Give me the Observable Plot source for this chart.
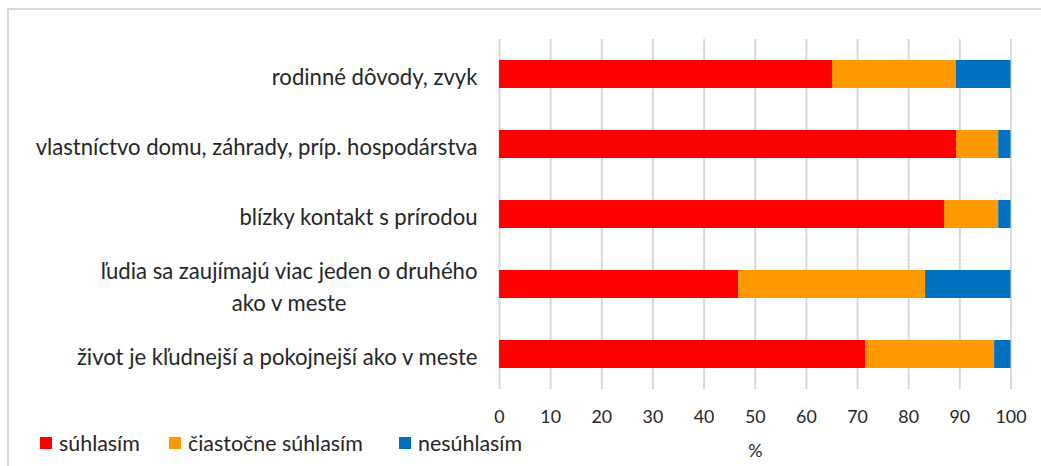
<!DOCTYPE html>
<html><head><meta charset="utf-8">
<script src="https://cdn.jsdelivr.net/npm/d3@7"></script>
<script src="https://cdn.jsdelivr.net/npm/@observablehq/plot@0.6"></script>
<style>
html,body{margin:0;padding:0;background:#fff;}
#wrap{position:relative;width:1041px;height:466px;overflow:hidden;background:#fff;}
#frame{position:absolute;left:7px;top:8px;width:1200px;height:600px;border-left:2px solid #d9d9d9;border-top:2px solid #d9d9d9;}
#chart{position:absolute;left:0;top:0;}
.item{position:absolute;top:431px;height:24px;display:flex;align-items:center;color:#262626;white-space:nowrap;}
.sw{width:12px;height:12px;margin-right:7px;}
</style></head>
<body><div id="wrap"><div id="frame"></div><div id="chart"></div><div id="legend"></div></div>
<script>
// ---- data ----
const categories = [
  "rodinné dôvody, zvyk",
  "vlastníctvo domu, záhrady, príp. hospodárstva",
  "blízky kontakt s prírodou",
  "ľudia sa zaujímajú viac jeden o druhého\nako v meste",
  "život je kľudnejší a pokojnejší ako v meste"
];
const seriesNames = ["súhlasím", "čiastočne súhlasím", "nesúhlasím"];
const suhlasim   = [65.1, 89.4, 87.0, 46.8, 71.6];
const ciastocne  = [24.2,  8.2, 10.6, 36.5, 25.2];
const nesuhlasim = [10.7,  2.4,  2.4, 16.7,  3.2];
const seriesColors = ["#FF0000", "#FF9900", "#0070C0"];
const xTicks = [0, 10, 20, 30, 40, 50, 60, 70, 80, 90, 100];
const xLabel = "%";

// ---- build table ----
const seriesValues = [suhlasim, ciastocne, nesuhlasim];
const rows = categories.flatMap((c, i) =>
  seriesNames.map((s, j) => ({cat: c, series: s, value: seriesValues[j][i]})));

// ---- font fitting ----
const FAMILY = "Lato";
const ctx = document.createElement("canvas").getContext("2d");
function fit(text, target) { ctx.font = `100px ${FAMILY}`; return 100 * target / ctx.measureText(text).width; }
const catSize = fit("vlastníctvo domu, záhrady, príp. hospodárstva", 442);
const tickSize = fit("100", 31);
const legSize = fit("čiastočne súhlasím", 175);

const plot = Plot.plot({
  width: 1041,
  height: 466,
  marginLeft: 499,
  marginRight: 30.5,
  marginTop: 39,
  marginBottom: 77,
  style: {fontFamily: FAMILY, color: "#262626", background: "transparent", overflow: "visible"},
  x: {domain: [0, 100], axis: null},
  y: {domain: categories, paddingInner: 0.6, paddingOuter: 0.3, axis: null},
  color: {domain: seriesNames, range: seriesColors},
  marks: [
    Plot.gridX(xTicks, {stroke: "#d9d9d9", strokeWidth: 2, strokeOpacity: 1}),
    Plot.barX(rows, Plot.stackX({y: "cat", x: "value", fill: "series"})),
    Plot.axisX(xTicks, {tickSize: 0, tickPadding: 21, fontSize: tickSize, tickFormat: d => String(d), label: null, fill: "#262626"}),
    Plot.text(categories, {y: d => d, x: () => 0, dx: -22, textAnchor: "end", lineAnchor: "middle", lineHeight: 1.45, fontSize: catSize, fill: "#262626"}),
    Plot.text([xLabel], {frameAnchor: "bottom", dy: 62, lineAnchor: "middle", fontSize: tickSize, fill: "#262626"})
  ]
});
document.getElementById("chart").appendChild(plot);

// center multi-line category label lines (Excel style)
plot.querySelectorAll("text").forEach(t => {
  const spans = t.querySelectorAll("tspan");
  if (spans.length > 1) {
    const ws = Array.from(spans, s => s.getComputedTextLength());
    const W = Math.max(...ws);
    spans.forEach((s, i) => s.setAttribute("x", -(W - ws[i]) / 2));
  }
});

// legend
const legX = [40, 169, 399];
const leg = document.getElementById("legend");
seriesNames.forEach((s, i) => {
  const it = document.createElement("div");
  it.className = "item";
  it.style.left = legX[i] + "px";
  it.style.fontFamily = FAMILY;
  it.style.fontSize = legSize + "px";
  const sw = document.createElement("div");
  sw.className = "sw";
  sw.style.background = seriesColors[i];
  const tx = document.createElement("span");
  tx.textContent = s;
  it.appendChild(sw); it.appendChild(tx);
  leg.appendChild(it);
});
</script>
</body></html>
